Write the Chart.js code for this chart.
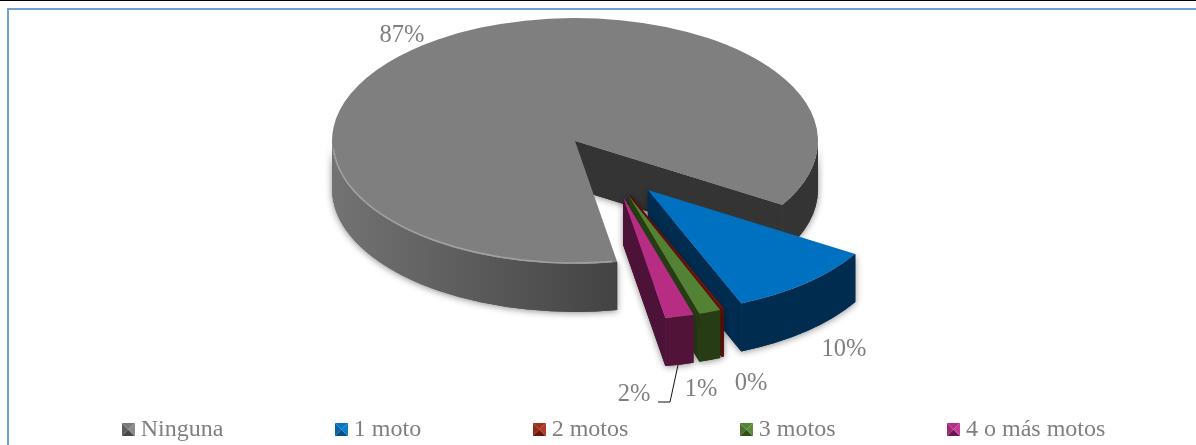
<!DOCTYPE html>
<html>
<head>
<meta charset="utf-8">
<script src="https://cdn.jsdelivr.net/npm/chart.js@4/dist/chart.umd.min.js"></script>
<style>
html,body{margin:0;padding:0;background:#fff;overflow:hidden}
#wrap{position:relative;width:1196px;height:445px}
#wrap canvas{position:absolute;left:0;top:0}
.r{position:absolute;background:#000}
</style>
</head>
<body>
<div id="wrap">
<div class="r" style="left:0;top:0;width:1196px;height:1px"></div>
<div class="r" style="left:7px;top:8px;width:1189px;height:1.5px;background:#6f9fd4"></div>
<div class="r" style="left:7px;top:8px;width:1.5px;height:437px;background:#6f9fd4"></div>
<canvas id="c" width="1196" height="445"></canvas>
</div>
<script>
// ---------- data ----------
const categories = ['Ninguna', '1 moto', '2 motos', '3 motos', '4 o más motos'];
const shares = [86.5, 10, 0.15, 1.45, 1.9];

// ---------- style & layout ----------
const topColors = ['#7f7f7f', '#0070c0', '#7a1508', '#548235', '#b82d84'];
const faceColors = ['#343434', '#002c50', '#5f0f05', '#263c14', '#4c1238'];
const wallStops = [
  [[0, '#737373'], [0.585, '#434343'], [0.59, '#343434'], [1, '#343434']],
  [[0, '#002c50'], [1, '#002c50']],
  [[0, '#5f0f05'], [1, '#5f0f05']],
  [[0, '#263c14'], [1, '#263c14']],
  [[0, '#521339'], [1, '#521339']]
];
const markerColors = [
  ['#5c5c5c', '#484848', '#8a8a8a', '#7a7a7a'],
  ['#0a62a8', '#034f88', '#0a7fd0', '#0874c2'],
  ['#8e2a1c', '#681608', '#b13a28', '#a03020'],
  ['#4a7030', '#304c1a', '#5e8c3c', '#548235'],
  ['#a02878', '#6c164e', '#c83a98', '#b82d84']
];
const PIE = {cx: 575, cy: 141, radius: 243, squash: 0.506, depth: 48};
// explosion of each slice, as a fraction of radius along x and y of the top face
const explode = [[0, 0], [0.30, 0.398], [0.228, 0.439], [0.222, 0.447], [0.198, 0.455]];
const labelAt = [[402, 36], [844, 350], [751, 384], [701, 390], [634, 395]];
const leader = [[678, 365], [670, 402], [658, 402]];
const TEXT = '#7f7f7f';
const FONT = '"Liberation Serif", "Times New Roman", serif';
const TAU = Math.PI * 2;

function marker(cols) {
  const s = 13, m = document.createElement('canvas');
  m.width = s; m.height = s;
  const g = m.getContext('2d');
  const tri = (a, b, col) => {
    g.fillStyle = col; g.beginPath(); g.moveTo(a[0], a[1]); g.lineTo(b[0], b[1]);
    g.lineTo(s / 2, s / 2); g.closePath(); g.fill();
  };
  tri([0, 0], [0, s], cols[0]);
  tri([0, s], [s, s], cols[1]);
  tri([s, 0], [s, s], cols[2]);
  tri([0, 0], [s, 0], cols[3]);
  return m;
}
const markers = markerColors.map(marker);

const pie3d = {
  id: 'pie3d',
  beforeDatasetDraw(chart, args) {
    const ctx = chart.ctx, arcs = args.meta.data;
    const R = PIE.radius, ry = R * PIE.squash, D = PIE.depth;
    arcs.forEach((arc, i) => {
      const cx = PIE.cx + explode[i][0] * R, cy = PIE.cy + explode[i][1] * ry;
      const a = arc.startAngle, b = arc.endAngle;
      const grad = ctx.createLinearGradient(PIE.cx - R, 0, PIE.cx + R, 0);
      wallStops[i].forEach(s => grad.addColorStop(s[0], s[1]));
      // first pass casts the soft shadow, second pass repaints cleanly over it
      for (let pass = 0; pass < 2; pass++) {
        ctx.save();
        if (pass === 0) {
          ctx.shadowColor = 'rgba(0,0,0,0.45)';
          ctx.shadowBlur = 7;
          ctx.shadowOffsetY = 1;
        }
        // radial face at the trailing or leading edge, when it looks at the viewer
        const th = Math.cos(b) > 0 ? b : (Math.cos(a) < 0 ? a : null);
        if (th !== null) {
          const x = cx + R * Math.cos(th), y = cy + ry * Math.sin(th);
          ctx.fillStyle = faceColors[i];
          ctx.beginPath();
          ctx.moveTo(cx, cy); ctx.lineTo(x, y); ctx.lineTo(x, y + D); ctx.lineTo(cx, cy + D);
          ctx.closePath(); ctx.fill();
        }
        // outer wall: only the part of the rim on the near half
        ctx.fillStyle = grad;
        for (let k = 0; k < 2; k++) {
          const lo = Math.max(a, k * TAU), hi = Math.min(b, k * TAU + Math.PI);
          if (hi > lo) {
            ctx.beginPath();
            ctx.ellipse(cx, cy, R, ry, 0, lo, hi);
            ctx.ellipse(cx, cy + D, R, ry, 0, hi, lo, true);
            ctx.closePath(); ctx.fill();
          }
        }
        ctx.restore();
      }
      // top face: the library's own arc, squashed onto the tilted plane
      ctx.save();
      ctx.translate(cx, cy);
      ctx.scale(1, PIE.squash);
      ctx.translate(-arc.x, -arc.y);
      arc.draw(ctx);
      ctx.restore();
      // soft highlight along the near rim of the big slice
      if (i === 0) {
        ctx.save();
        ctx.strokeStyle = 'rgba(190,190,190,0.55)';
        ctx.lineWidth = 1.4;
        ctx.beginPath();
        ctx.ellipse(cx, cy, R - 1, ry - 1, 0, a + 0.02, Math.PI * 0.98);
        ctx.stroke();
        ctx.restore();
      }
    });
    return false;
  },
  afterDraw(chart) {
    const ctx = chart.ctx;
    ctx.save();
    ctx.strokeStyle = '#111';
    ctx.lineWidth = 1;
    ctx.beginPath();
    leader.forEach((p, i) => i ? ctx.lineTo(p[0], p[1]) : ctx.moveTo(p[0], p[1]));
    ctx.stroke();
    ctx.fillStyle = TEXT;
    ctx.font = '24.5px ' + FONT;
    ctx.textAlign = 'center';
    ctx.textBaseline = 'middle';
    shares.forEach((v, i) => ctx.fillText(Math.round(v) + '%', labelAt[i][0], labelAt[i][1]));
    ctx.restore();
  }
};

new Chart(document.getElementById('c'), {
  type: 'pie',
  data: {
    labels: categories,
    datasets: [{data: shares, backgroundColor: topColors, borderWidth: 0, radius: PIE.radius}]
  },
  plugins: [pie3d],
  options: {
    responsive: false,
    animation: false,
    rotation: 170,
    layout: {padding: {left: 0, right: -37, top: 0, bottom: 0}},
    plugins: {
      tooltip: {enabled: false},
      legend: {
        position: 'bottom',
        maxHeight: 145,
        labels: {
          color: TEXT,
          font: {family: FONT, size: 24},
          padding: 117.5,
          usePointStyle: true,
          pointStyleWidth: 1,
          generateLabels: () => categories.map((t, i) => ({
            text: t, fontColor: TEXT, fillStyle: topColors[i], strokeStyle: topColors[i],
            lineWidth: 0, pointStyle: markers[i], hidden: false, index: i
          }))
        }
      }
    }
  }
});
</script>
</body>
</html>
